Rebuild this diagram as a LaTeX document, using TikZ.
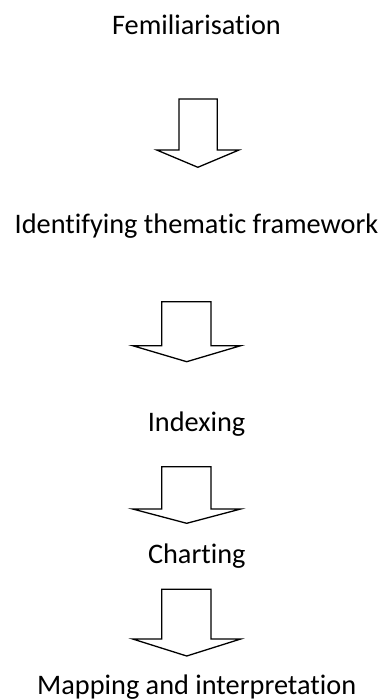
\documentclass[tikz,border=0pt]{standalone}
\usepackage{fontspec}
\setmainfont[Ligatures=NoCommon, RawFeature={-liga;-clig;-dlig}]{Carlito}
\tikzset{
  lbl/.style={anchor=base, inner sep=0pt, font=\fontsize{28.3}{34}\selectfont, text=black},
  blk/.style={draw=black, line width=1.3pt, fill=white, line join=miter}
}
\newcommand\blkarrow[7]{%
  \draw[blk] (#1,#3) -- (#2,#3) -- (#2,#4) -- (#6,#4) -- ({(#5+#6)/2},#7) -- (#5,#4) -- (#1,#4) -- cycle;}
\begin{document}
\begin{tikzpicture}[x=1pt,y=-1pt]
\useasboundingbox (0,0) rectangle (383,700);
\node[lbl] (fam) at (196.5,35) {Femiliarisation};
\node[lbl] (ident) at (196.5,234) {Identifying thematic framework};
\node[lbl] (index) at (196.5,431.7) {Indexing};
\node[lbl] (chart) at (196.8,563.3) {Charting};
\node[lbl] (map) at (196.7,694.3) {Mapping and interpretation};
\blkarrow{179}{217.3}{99}{150}{156.7}{239}{167.3}
\blkarrow{161.7}{211}{301.7}{345.7}{132.7}{240.7}{361.7}
\blkarrow{161.7}{211}{466.7}{509}{132.7}{240.7}{523.3}
\blkarrow{161.7}{211}{589.3}{639}{132.7}{240.7}{656}
\end{tikzpicture}
\end{document}
